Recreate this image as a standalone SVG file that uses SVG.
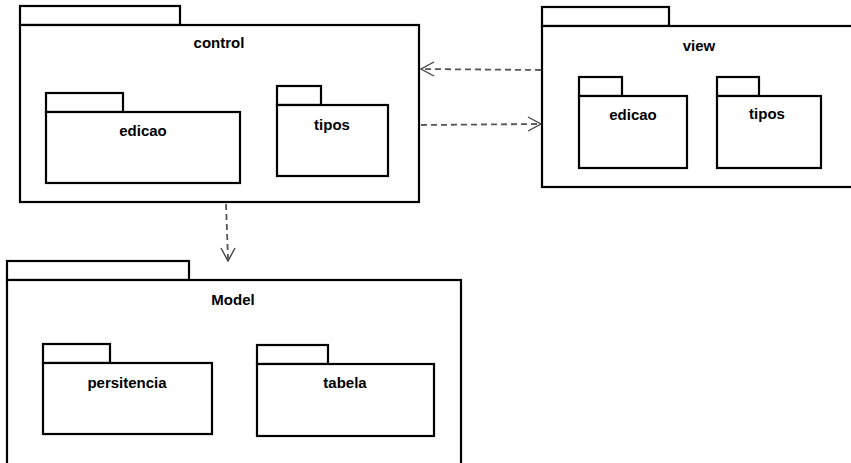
<svg xmlns="http://www.w3.org/2000/svg" width="851" height="463" viewBox="0 0 851 463">
  <defs>
    <style>
      .pkg { fill: #fff; stroke: #000; stroke-width: 2.2; }
      .lbl { font-family: "Liberation Sans", Arial, sans-serif; font-weight: bold; font-size: 15px; text-anchor: middle; fill: #000; }
      .dep { fill: none; stroke: #555; stroke-width: 1.8; stroke-dasharray: 6 4; }
      .head { fill: none; stroke: #444; stroke-width: 1.4; }
    </style>
  </defs>
  <rect width="851" height="463" fill="#fff"/>

  <!-- control package -->
  <g id="control">
    <rect class="pkg" x="20" y="6" width="160" height="19"/>
    <rect class="pkg" x="20" y="25" width="399" height="177"/>
    <text class="lbl" x="219" y="48">control</text>
    <g id="control-edicao">
      <rect class="pkg" x="46" y="93" width="77" height="19"/>
      <rect class="pkg" x="46" y="112" width="194" height="71"/>
      <text class="lbl" x="143" y="136">edicao</text>
    </g>
    <g id="control-tipos">
      <rect class="pkg" x="277" y="86" width="44" height="19"/>
      <rect class="pkg" x="277" y="105" width="111" height="71"/>
      <text class="lbl" x="332" y="130">tipos</text>
    </g>
  </g>

  <!-- view package -->
  <g id="view">
    <rect class="pkg" x="542" y="7" width="127" height="19"/>
    <rect class="pkg" x="542" y="26" width="320" height="161"/>
    <text class="lbl" x="699" y="51">view</text>
    <g id="view-edicao">
      <rect class="pkg" x="579" y="77" width="43" height="19"/>
      <rect class="pkg" x="579" y="96" width="108" height="72"/>
      <text class="lbl" x="633" y="120">edicao</text>
    </g>
    <g id="view-tipos">
      <rect class="pkg" x="717" y="77" width="42" height="19"/>
      <rect class="pkg" x="717" y="96" width="104" height="72"/>
      <text class="lbl" x="767" y="119">tipos</text>
    </g>
  </g>

  <!-- Model package -->
  <g id="model">
    <rect class="pkg" x="7" y="261" width="182" height="19"/>
    <rect class="pkg" x="7" y="280" width="454" height="200"/>
    <text class="lbl" x="233" y="305">Model</text>
    <g id="model-persitencia">
      <rect class="pkg" x="43" y="344" width="67" height="19"/>
      <rect class="pkg" x="43" y="363" width="169" height="71"/>
      <text class="lbl" x="127" y="388">persitencia</text>
    </g>
    <g id="model-tabela">
      <rect class="pkg" x="257" y="345" width="71" height="19"/>
      <rect class="pkg" x="257" y="364" width="177" height="72"/>
      <text class="lbl" x="345" y="388">tabela</text>
    </g>
  </g>

  <!-- dependencies -->
  <g id="connectors">
    <line class="dep" x1="541" y1="70" x2="422" y2="69"/>
    <polyline class="head" points="434,62 421,69 434,76"/>
    <line class="dep" x1="421" y1="125" x2="539" y2="124"/>
    <polyline class="head" points="528,117 541,124 528,131"/>
    <line class="dep" x1="226" y1="204" x2="228" y2="259"/>
    <polyline class="head" points="221,248 228,261 235,248"/>
  </g>
</svg>
